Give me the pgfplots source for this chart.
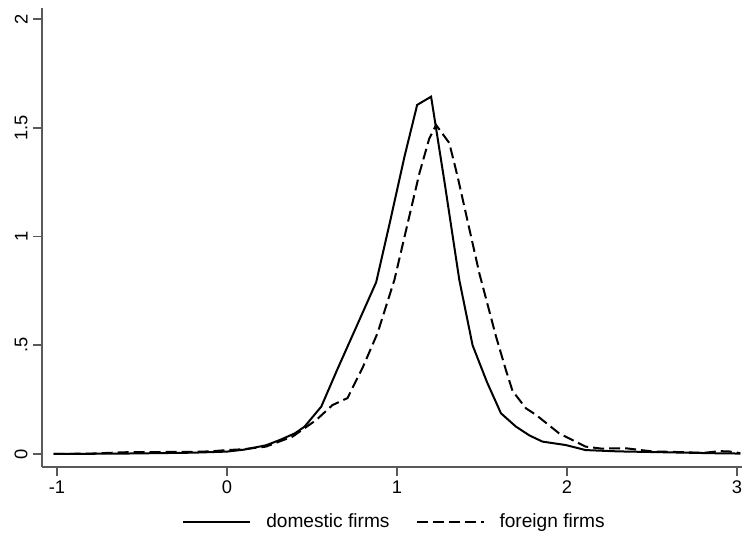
\documentclass[border=0pt]{standalone}
\usepackage{fontspec}
\setmainfont{Liberation Sans}
\usepackage{pgfplots}
\pgfplotsset{compat=1.18}

\begin{document}
\begin{tikzpicture}
\useasboundingbox (-21bp,-35.5bp) rectangle (351bp,233.5bp);
\begin{axis}[
    at={(0,0)}, anchor=south west,
    scale only axis,
    width=350bp, height=229.5bp,
    font=\fontsize{9.2}{11}\selectfont,
    xmin=-1.088, xmax=3.03, ymin=-0.0598, ymax=2.0506,
    axis lines*=left,
    axis line style={black!65, line width=0.8bp},
    xtick={-1,0,1,2,3}, xticklabels={-1,0,1,2,3},
    ytick={0,0.5,1,1.5,2},
    yticklabels={0,.5,1,1.5,2},
    tick style={black!65, line width=0.8bp},
    tick align=outside, major tick length=4.5bp,
    xticklabel style={inner sep=2bp},
    y tick label style={rotate=90, anchor=south, inner sep=2.5bp},
    legend columns=2,
    legend style={at={(0.505,-0.12)}, anchor=center, draw=none,
        font=\fontsize{9.6}{11}\selectfont,
        /tikz/every odd column/.append style={column sep=5.5bp},
        /tikz/every even column/.append style={column sep=11bp}},
    legend image code/.code={\draw[#1] (0bp,0bp) -- (33.5bp,0bp);},
]
\addplot[black, line width=1bp] coordinates {
(-1.02,0.000)(-0.8,0.001)(-0.6,0.002)(-0.4,0.004)(-0.2,0.006)(0.0,0.011)
(0.1,0.02)(0.23,0.040)(0.31,0.064)(0.40,0.095)(0.457,0.126)(0.555,0.218)
(0.65,0.39)(0.75,0.565)(0.878,0.79)(0.96,1.07)(1.044,1.366)(1.119,1.605)
(1.201,1.643)(1.28,1.25)(1.367,0.80)(1.445,0.50)(1.53,0.33)(1.612,0.187)
(1.70,0.126)(1.78,0.085)(1.856,0.057)(1.994,0.041)(2.11,0.018)(2.3,0.012)
(2.5,0.009)(2.7,0.006)(2.9,0.003)(3.02,0.002)
};
\addlegendentry{domestic firms}
\addplot[black, line width=1bp, dash pattern=on 5.5bp off 2.5bp] coordinates {
(-1.02,0.000)(-0.8,0.002)(-0.6,0.008)(-0.4,0.009)(-0.2,0.010)(-0.1,0.012)
(0.0,0.018)(0.1,0.022)(0.23,0.034)(0.386,0.08)(0.525,0.156)(0.621,0.225)
(0.709,0.257)(0.80,0.40)(0.886,0.556)(0.985,0.80)(1.06,1.05)(1.132,1.29)
(1.19,1.45)(1.230,1.513)(1.308,1.43)(1.357,1.275)(1.42,1.056)(1.485,0.83)
(1.583,0.54)(1.641,0.386)(1.68,0.29)(1.759,0.21)(1.818,0.18)(1.954,0.095)
(2.11,0.034)(2.2,0.025)(2.35,0.026)(2.5,0.012)(2.7,0.008)(2.8,0.005)
(2.9,0.013)(2.95,0.012)(3.02,0.004)
};
\addlegendentry{foreign firms}
\end{axis}
\end{tikzpicture}
\end{document}
